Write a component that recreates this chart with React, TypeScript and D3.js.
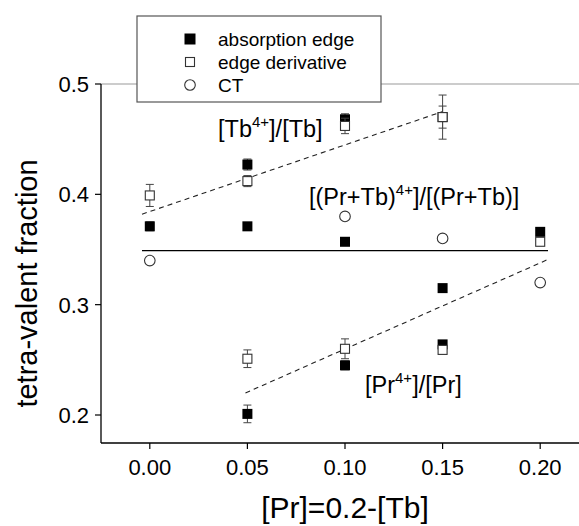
import React from "react";
import * as d3 from "d3";

// ---- data ----
const xTicks = [0.0, 0.05, 0.1, 0.15, 0.2];
const yTicks = [0.2, 0.3, 0.4, 0.5];

// absorption edge (filled squares)
const absX = [0.0, 0.05, 0.1, 0.15, 0.05, 0.1, 0.15, 0.2, 0.05, 0.1, 0.15];
const absY = [0.371, 0.427, 0.468, 0.47, 0.371, 0.357, 0.315, 0.366, 0.201, 0.245, 0.264];
const absErr = [0.004, 0.005, 0.005, 0.01, 0, 0, 0, 0, 0.008, 0.004, 0.003];

// edge derivative (open squares)
const derX = [0.0, 0.05, 0.1, 0.15, 0.2, 0.05, 0.1, 0.15];
const derY = [0.399, 0.412, 0.462, 0.47, 0.357, 0.251, 0.26, 0.259];
const derErr = [0.01, 0.005, 0.007, 0.02, 0.003, 0.008, 0.009, 0.003];

// CT (open circles)
const ctX = [0.0, 0.1, 0.15, 0.2];
const ctY = [0.34, 0.38, 0.36, 0.32];

// lines
const meanX = [-0.004, 0.204];
const meanY = [0.349, 0.349];
const tbFitX = [-0.004, 0.15];
const tbFitY = [0.382, 0.475];
const prFitX = [0.049, 0.204];
const prFitY = [0.22, 0.341];

const legendLabels = ["absorption edge", "edge derivative", "CT"];

const FONT = "'Liberation Sans', Arial, Helvetica, sans-serif";

export default function App() {
  const W = 579;
  const H = 526;
  const x = d3.scaleLinear().domain([-0.025, 0.225]).range([101, 589]);
  const y = d3.scaleLinear().domain([0.2, 0.5]).range([415, 84]);
  const yBottom = 443;
  const line = d3
    .line<[number, number]>()
    .x((d) => x(d[0]))
    .y((d) => y(d[1]));
  const pts = (xs: number[], ys: number[]) => xs.map((v, i) => [v, ys[i]] as [number, number]);

  const errBar = (xv: number, yv: number, e: number, key: string) => {
    if (!e) return null;
    const cx = x(xv);
    const y1 = y(yv - e);
    const y2 = y(yv + e);
    return (
      <g key={key} stroke="#444" strokeWidth={1}>
        <line x1={cx} x2={cx} y1={y1} y2={y2} />
        <line x1={cx - 4} x2={cx + 4} y1={y1} y2={y1} />
        <line x1={cx - 4} x2={cx + 4} y1={y2} y2={y2} />
      </g>
    );
  };

  const S = 10;
  return (
    <svg
      width={W}
      height={H}
      style={{ position: "absolute", left: 0, top: 0, background: "#fff" }}
      fontFamily={FONT}
    >
      <rect x={0} y={0} width={W} height={H} fill="#fff" />
      {/* top grey frame line */}
      <line x1={101} x2={589} y1={y(0.5)} y2={y(0.5)} stroke="#999" strokeWidth={1.2} />
      {/* axes */}
      <line x1={101} x2={101} y1={y(0.5)} y2={yBottom} stroke="#000" strokeWidth={1.3} />
      <line x1={101} x2={589} y1={yBottom} y2={yBottom} stroke="#000" strokeWidth={1.3} />
      {yTicks.map((t) => (
        <g key={"yt" + t}>
          <line x1={95} x2={101} y1={y(t)} y2={y(t)} stroke="#000" strokeWidth={1.2} />
          <text x={89} y={y(t)} dy="0.36em" textAnchor="end" fontSize={22} fill="#000">
            {d3.format(".1f")(t)}
          </text>
        </g>
      ))}
      {xTicks.map((t) => (
        <g key={"xt" + t}>
          <line x1={x(t)} x2={x(t)} y1={yBottom} y2={yBottom + 6} stroke="#000" strokeWidth={1.2} />
          <text x={x(t)} y={475} textAnchor="middle" fontSize={22} fill="#000">
            {d3.format(".2f")(t)}
          </text>
        </g>
      ))}
      {/* axis titles */}
      <text x={345} y={518} textAnchor="middle" fontSize={30} fill="#000">
        [Pr]=0.2-[Tb]
      </text>
      <text
        transform={`translate(37,${(y(0.5) + yBottom) / 2 + 20}) rotate(-90)`}
        textAnchor="middle"
        fontSize={29}
        fill="#000"
      >
        tetra-valent fraction
      </text>

      {/* lines */}
      <path d={line(pts(meanX, meanY)) || ""} stroke="#000" strokeWidth={1.4} fill="none" />
      <path d={line(pts(tbFitX, tbFitY)) || ""} stroke="#222" strokeWidth={1.1} strokeDasharray="5,4" fill="none" />
      <path d={line(pts(prFitX, prFitY)) || ""} stroke="#222" strokeWidth={1.1} strokeDasharray="5,4" fill="none" />

      {/* absorption edge */}
      {absX.map((xv, i) => errBar(xv, absY[i], absErr[i], "ae" + i))}
      {absX.map((xv, i) => (
        <rect key={"a" + i} x={x(xv) - S / 2} y={y(absY[i]) - S / 2} width={S} height={S} fill="#000" />
      ))}
      {/* edge derivative */}
      {derX.map((xv, i) => errBar(xv, derY[i], derErr[i], "de" + i))}
      {derX.map((xv, i) => (
        <rect
          key={"d" + i}
          x={x(xv) - 4.5}
          y={y(derY[i]) - 4.5}
          width={9}
          height={9}
          fill="#fff"
          stroke="#333"
          strokeWidth={1.1}
        />
      ))}
      {/* CT */}
      {ctX.map((xv, i) => (
        <circle key={"c" + i} cx={x(xv)} cy={y(ctY[i])} r={5.3} fill="#fff" stroke="#333" strokeWidth={1.1} />
      ))}

      {/* annotations */}
      <text x={218} y={137} fontSize={23.5} fill="#000">
        [Tb<tspan dy={-10} fontSize={15}>4+</tspan>
        <tspan dy={10}>]/[Tb]</tspan>
      </text>
      <text x={309} y={205} fontSize={23.5} fill="#000">
        [(Pr+Tb)<tspan dy={-10} fontSize={15}>4+</tspan>
        <tspan dy={10}>]/[(Pr+Tb)]</tspan>
      </text>
      <text x={365} y={393} fontSize={23.5} fill="#000">
        [Pr<tspan dy={-10} fontSize={15}>4+</tspan>
        <tspan dy={10}>]/[Pr]</tspan>
      </text>

      {/* legend */}
      <rect x={137} y={16} width={244} height={86} fill="#fff" stroke="#555" strokeWidth={1.2} />
      {legendLabels.map((lab, i) => {
        const cy = 39 + i * 23;
        return (
          <g key={"lg" + i}>
            {i === 0 && <rect x={184.5} y={cy - 5.5} width={11} height={11} fill="#000" />}
            {i === 1 && (
              <rect x={185.5} y={cy - 4.5} width={9} height={9} fill="#fff" stroke="#333" strokeWidth={1.1} />
            )}
            {i === 2 && <circle cx={190} cy={cy} r={5.3} fill="#fff" stroke="#333" strokeWidth={1.1} />}
            <text x={218} y={cy} dy="0.36em" fontSize={19} fill="#000">
              {lab}
            </text>
          </g>
        );
      })}
    </svg>
  );
}
